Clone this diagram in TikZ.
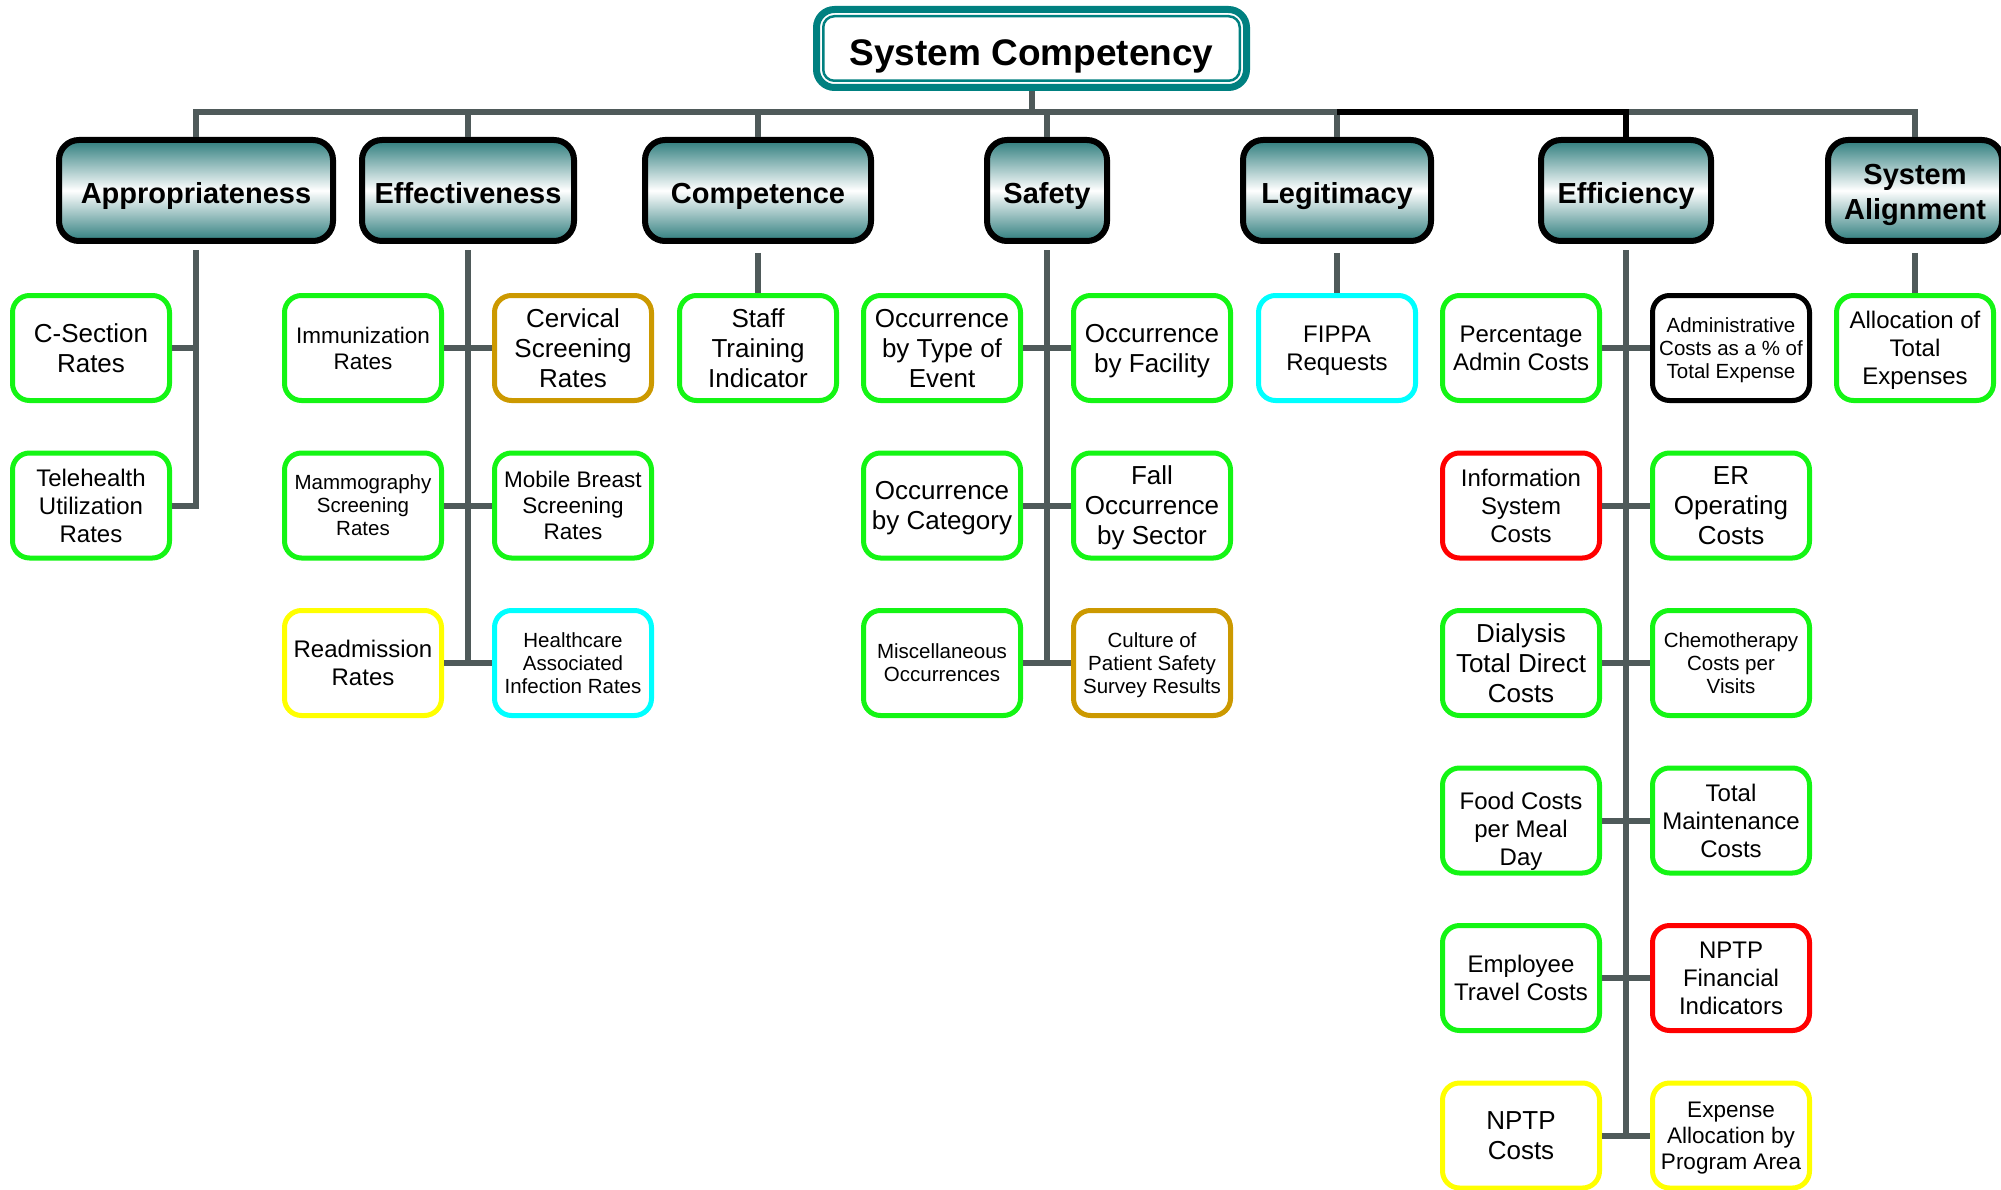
\documentclass[tikz,border=0pt]{standalone}
\usepackage{xcolor}
\usepackage{fontspec}
\setmainfont{Liberation Sans}
\usepackage{tikz}
\usetikzlibrary{shapes,positioning}

\definecolor{titleteal}{RGB}{0,128,128}
\definecolor{headteal}{RGB}{46,125,125}
\definecolor{linegray}{RGB}{79,90,90}
\definecolor{cgreen}{RGB}{20,245,20}
\definecolor{cgold}{RGB}{204,153,0}
\definecolor{cyellow}{RGB}{255,255,0}
\definecolor{ccyan}{RGB}{0,255,255}
\definecolor{cred}{RGB}{255,0,0}

\begin{document}
\begin{tikzpicture}[
    x=1pt, y=1pt,
    titlebox/.style={rectangle, rounded corners=18pt, draw=titleteal, line width=7pt, fill=white, minimum width=430pt, minimum height=78pt, text height=35pt, text depth=0pt, font=\bfseries\fontsize{37}{40}\selectfont},
    head/.style={rectangle, rounded corners=20pt, draw=black, line width=6pt, top color=headteal, bottom color=headteal, middle color=white, minimum height=101pt, inner sep=2pt, align=center, text depth=0pt, font=\bfseries\fontsize{29}{33}\selectfont},
    oneline/.style={text height=25.6pt},
    box/.style={rectangle, rounded corners=17pt, draw=cgreen, line width=5pt, fill=white, minimum width=157pt, minimum height=105pt, inner sep=1pt, align=center, text depth=0pt, font=\fontsize{24}{28}\selectfont},
    fbig/.style={font=\fontsize{26}{30}\selectfont},
    fmid/.style={font=\fontsize{24}{28}\selectfont},
    fsml/.style={font=\fontsize{22.5}{26}\selectfont},
    ftny/.style={font=\fontsize{20.5}{23}\selectfont},
    conn/.style={draw=linegray, line width=6pt},
    trunk/.style={conn, line cap=rect}
]
    \useasboundingbox (0,0) rectangle (2001,-1190);

    % Top
    \node[titlebox] (system) at (1031.5,-48.5) {System Competency};
    \draw[titleteal, line width=2.5pt, rounded corners=11pt] ([shift={(10.25,-10.25)}]system.north west) rectangle ([shift={(-10.25,10.25)}]system.south east);
    \coordinate (bus) at (0,-112);

    % Dimensions
    \node[head, oneline, minimum width=274pt] (approp) at (196,-190.5) {Appropriateness};
    \node[head, oneline, minimum width=212pt] (effect) at (468,-190.5) {Effectiveness};
    \node[head, oneline, minimum width=226pt] (compet) at (758,-190.5) {Competence};
    \node[head, oneline, minimum width=120pt] (safety) at (1047,-190.5) {Safety};
    \node[head, oneline, minimum width=188pt] (legit) at (1337,-190.5) {Legitimacy};
    \node[head, oneline, minimum width=170pt] (effic) at (1626,-190.5) {Efficiency};
    \node[head, minimum width=174pt, text height=59pt, font=\bfseries\fontsize{29}{35}\selectfont] (sysalign) at (1915,-190.5) {System\\Alignment};

    % Appropriateness
    \node[box, fbig, below=49pt of approp, xshift=-105pt] (csection) {C-Section\\Rates};
    \node[box, fmid, below=47.5pt of csection] (telehealth) {Telehealth\\Utilization\\Rates};

    % Effectiveness
    \node[box, fsml, below=49pt of effect, xshift=-105pt] (immun) {Immunization\\Rates};
    \node[box, fbig, draw=cgold, right=48pt of immun] (cervical) {Cervical\\Screening\\Rates};
    \node[box, ftny, below=47.5pt of immun] (mammo) {Mammography\\Screening\\Rates};
    \node[box, fsml, right=48pt of mammo] (mobile) {Mobile Breast\\Screening\\Rates};
    \node[box, fmid, draw=cyellow, below=47.5pt of mammo] (readmit) {Readmission\\Rates};
    \node[box, ftny, draw=ccyan, right=48pt of readmit] (hai) {Healthcare\\Associated\\Infection Rates};

    % Competence
    \node[box, fbig, below=49pt of compet] (staff) {Staff\\Training\\Indicator};

    % Safety
    \node[box, fbig, below=49pt of safety, xshift=-105pt] (occtype) {Occurrence\\by Type of\\Event};
    \node[box, fbig, right=48pt of occtype] (occfac) {Occurrence\\by Facility};
    \node[box, fbig, below=47.5pt of occtype] (occcat) {Occurrence\\by Category};
    \node[box, fbig, right=48pt of occcat] (fall) {Fall\\Occurrence\\by Sector};
    \node[box, ftny, below=47.5pt of occcat] (misc) {Miscellaneous\\Occurrences};
    \node[box, ftny, draw=cgold, right=48pt of misc] (culture) {Culture of\\Patient Safety\\Survey Results};

    % Legitimacy
    \node[box, fmid, draw=ccyan, below=49pt of legit] (fippa) {FIPPA\\Requests};

    % Efficiency
    \node[box, fmid, below=49pt of effic, xshift=-105pt] (pctadmin) {Percentage\\Admin Costs};
    \node[box, ftny, draw=black, right=48pt of pctadmin] (admincost) {Administrative\\Costs as a \% of\\Total Expense};
    \node[box, fmid, draw=cred, below=47.5pt of pctadmin] (infosys) {Information\\System\\Costs};
    \node[box, fbig, right=48pt of infosys] (eroper) {ER\\Operating\\Costs};
    \node[box, fbig, below=47.5pt of infosys] (dialysis) {Dialysis\\Total Direct\\Costs};
    \node[box, ftny, right=48pt of dialysis] (chemo) {Chemotherapy\\Costs per\\Visits};
    \node[box, fmid, text height=90pt, below=47.5pt of dialysis] (food) {Food Costs\\per Meal\\Day};
    \node[box, fmid, right=48pt of food] (maint) {Total\\Maintenance\\Costs};
    \node[box, fmid, below=47.5pt of food] (travel) {Employee\\Travel Costs};
    \node[box, fmid, draw=cred, right=48pt of travel] (nptpfin) {NPTP\\Financial\\Indicators};
    \node[box, fbig, draw=cyellow, below=47.5pt of travel] (nptpcost) {NPTP\\Costs};
    \node[box, fsml, draw=cyellow, right=48pt of nptpcost] (expalloc) {Expense\\Allocation by\\Program Area};

    % System Alignment
    \node[box, fmid, below=49pt of sysalign] (allocation) {Allocation of\\Total\\Expenses};

    % Bus
    \draw[conn] (system.south) -- (system.south |- bus);
    \draw[conn] (approp.north) |- (sysalign.north |- bus) -- (sysalign.north);
    \draw[conn] (effect.north) -- (effect.north |- bus);
    \draw[conn] (compet.north) -- (compet.north |- bus);
    \draw[conn] (safety.north) -- (safety.north |- bus);
    \draw[conn] (legit.north) -- (legit.north |- bus);
    \draw[conn, draw=black] (legit.north |- bus) -- (effic.north |- bus) -- (effic.north);

    % Trunks
    \draw[trunk] ([yshift=-9pt]approp.south) -- (approp.south |- telehealth.center);
    \draw[trunk] ([yshift=-9pt]effect.south) -- (effect.south |- readmit.center);
    \draw[conn] ([yshift=-9pt]compet.south) -- (staff);
    \draw[trunk] ([yshift=-9pt]safety.south) -- (safety.south |- misc.center);
    \draw[conn] ([yshift=-9pt]legit.south) -- (fippa);
    \draw[trunk] ([yshift=-9pt]effic.south) -- (effic.south |- nptpcost.center);
    \draw[conn] ([yshift=-9pt]sysalign.south) -- (allocation);

    % Branches
    \draw[conn] (csection.east) -- (csection.east -| approp.south);
    \draw[conn] (telehealth.east) -- (telehealth.east -| approp.south);
    \draw[conn] (immun) -- (cervical);
    \draw[conn] (mammo) -- (mobile);
    \draw[conn] (readmit) -- (hai);
    \draw[conn] (occtype) -- (occfac);
    \draw[conn] (occcat) -- (fall);
    \draw[conn] (misc) -- (culture);
    \draw[conn] (pctadmin) -- (admincost);
    \draw[conn] (infosys) -- (eroper);
    \draw[conn] (dialysis) -- (chemo);
    \draw[conn] (food) -- (maint);
    \draw[conn] (travel) -- (nptpfin);
    \draw[conn] (nptpcost) -- (expalloc);
\end{tikzpicture}
\end{document}
